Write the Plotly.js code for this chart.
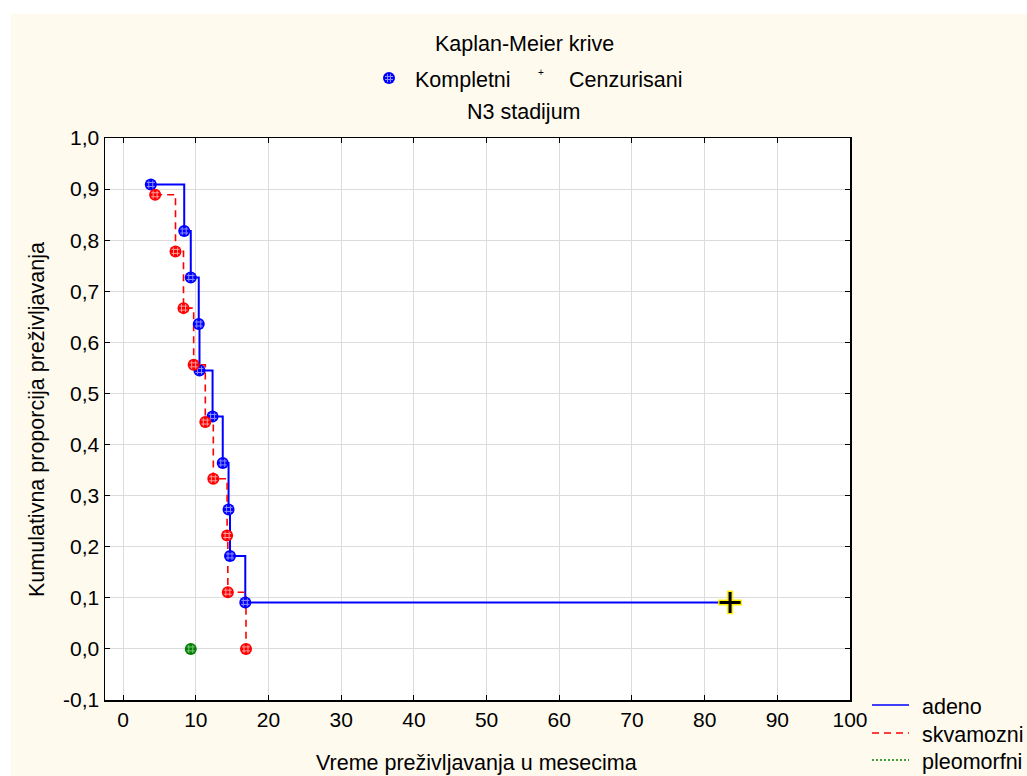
<!DOCTYPE html>
<html>
<head>
<meta charset="utf-8">
<script src="https://cdn.plot.ly/plotly-3.0.1.min.js"></script>
<style>
  html, body { margin: 0; padding: 0; background: #ffffff; }
  #chart { position: absolute; left: 11px; top: 14px; width: 1016px; height: 762px; }
</style>
</head>
<body>
<div id="chart"></div>
<script>
// Kaplan-Meier survival estimates, N3 stage, by histological type
const seriesNames = ['adeno', 'skvamozni', 'pleomorfni'];

// adeno: event times (months) and survival proportion after each event
const adenoTime = [3.8, 8.4, 9.3, 10.4, 10.5, 12.3, 13.7, 14.5, 14.7, 16.8];
const adenoSurv = [0.909, 0.818, 0.727, 0.636, 0.545, 0.455, 0.364, 0.273, 0.182, 0.091];
// adeno: censored observation
const adenoCensTime = [83.5];
const adenoCensSurv = [0.091];

// skvamozni
const skvTime = [4.4, 7.2, 8.3, 9.7, 11.3, 12.4, 14.3, 14.4, 16.9];
const skvSurv = [0.889, 0.778, 0.667, 0.556, 0.444, 0.333, 0.222, 0.111, 0.0];

// pleomorfni
const pleoTime = [9.3];
const pleoSurv = [0.0];

const xTicks = [0, 10, 20, 30, 40, 50, 60, 70, 80, 90, 100];
const yTicks = [-0.1, 0.0, 0.1, 0.2, 0.3, 0.4, 0.5, 0.6, 0.7, 0.8, 0.9, 1.0];
const yTickLabels = ['-0,1', '0,0', '0,1', '0,2', '0,3', '0,4', '0,5', '0,6', '0,7', '0,8', '0,9', '1,0'];

const titleText = 'Kaplan-Meier krive';
const subtitleText = 'N3 stadijum';
const markerLegend = ['Kompletni', 'Cenzurisani'];
const xTitle = 'Vreme preživljavanja u mesecima';
const yTitle = 'Kumulativna proporcija preživljavanja';

const colors = ['#0000ff', '#ff0000', '#008000'];
const hatchColors = ['#8c8cff', '#ff9a9a', '#7fc07f'];
const dashes = ['solid', '7px,5px', 'dot'];

// page-pixel helpers -> paper coordinates (div sits at 11,14)
const OX = 11, OY = 14;
const W = 1016, H = 762;
const M = { l: 94, r: 177, t: 124, b: 76 };
const PL = OX + M.l, PR = OX + W - M.r, PT = OY + M.t, PB = OY + H - M.b;
const px = x => (x - PL) / (PR - PL);
const py = y => (PB - y) / (PB - PT);

const font = 'Liberation Sans, Arial, sans-serif';
const fs = 21.5;
const fsTick = 21;

const groups = [
  { t: adenoTime.concat(adenoCensTime), s: adenoSurv.concat(adenoCensSurv), et: adenoTime, es: adenoSurv },
  { t: skvTime, s: skvSurv, et: skvTime, es: skvSurv },
  { t: pleoTime, s: pleoSurv, et: pleoTime, es: pleoSurv }
];

const traces = [];
groups.forEach((g, i) => {
  traces.push({
    x: g.t, y: g.s, mode: 'lines', type: 'scatter', name: seriesNames[i],
    line: { shape: 'hv', color: colors[i], width: i === 0 ? 2 : 1.6, dash: dashes[i] },
    hoverinfo: 'skip', showlegend: false
  });
});
groups.forEach((g, i) => {
  traces.push({
    x: g.et, y: g.es, mode: 'markers', type: 'scatter', showlegend: false,
    marker: { symbol: 'circle', size: 12, color: colors[i], line: { width: 0 } }
  });
  traces.push({
    x: g.et, y: g.es, mode: 'markers', type: 'scatter', showlegend: false, hoverinfo: 'skip',
    marker: { symbol: 'hash-open', size: 8, color: hatchColors[i], line: { width: 1, color: hatchColors[i] } }
  });
});
// censored mark: yellow-edged black plus
traces.push({
  x: adenoCensTime, y: adenoCensSurv, mode: 'markers', type: 'scatter', showlegend: false, hoverinfo: 'skip',
  marker: { symbol: 'cross-thin-open', size: 17, color: '#ffee00', line: { width: 6, color: '#ffee00' } }
});
traces.push({
  x: adenoCensTime, y: adenoCensSurv, mode: 'markers', type: 'scatter', showlegend: false,
  marker: { symbol: 'cross-thin-open', size: 15, color: '#000000', line: { width: 3, color: '#000000' } }
});

const baseFont = { family: font, size: fs, color: '#000' };
const annotations = [
  { text: titleText, x: px(524), y: py(44), xanchor: 'center', yanchor: 'middle' },
  { text: markerLegend[0], x: px(413), y: py(80), xanchor: 'left', yanchor: 'middle' },
  { text: '+', x: px(541), y: py(72), xanchor: 'center', yanchor: 'middle', font: { size: 10 } },
  { text: markerLegend[1], x: px(567), y: py(80), xanchor: 'left', yanchor: 'middle' },
  { text: subtitleText, x: px(524), y: py(112), xanchor: 'center', yanchor: 'middle' },
  { text: xTitle, x: px(476), y: py(763), xanchor: 'center', yanchor: 'middle' },
  { text: yTitle, x: px(37), y: py(420), xanchor: 'center', yanchor: 'middle', textangle: -90 }
].map(a => Object.assign({ xref: 'paper', yref: 'paper', showarrow: false }, a,
  { font: Object.assign({}, baseFont, a.font || {}) }));

const shapes = [
  // top marker key: complete observation symbol
  { type: 'circle', xref: 'paper', yref: 'paper', x0: px(383), x1: px(395), y0: py(84), y1: py(72),
    fillcolor: colors[0], line: { width: 0 } },
  { type: 'line', xref: 'paper', yref: 'paper', x0: px(385), x1: px(393), y0: py(76.5), y1: py(76.5), line: { color: hatchColors[0], width: 1 } },
  { type: 'line', xref: 'paper', yref: 'paper', x0: px(385), x1: px(393), y0: py(79.5), y1: py(79.5), line: { color: hatchColors[0], width: 1 } },
  { type: 'line', xref: 'paper', yref: 'paper', x0: px(387.5), x1: px(387.5), y0: py(74), y1: py(82), line: { color: hatchColors[0], width: 1 } },
  { type: 'line', xref: 'paper', yref: 'paper', x0: px(390.5), x1: px(390.5), y0: py(74), y1: py(82), line: { color: hatchColors[0], width: 1 } }
];

// series key, lower right
const keyY = [705, 733, 760];
seriesNames.forEach((n, i) => {
  shapes.push({ type: 'line', xref: 'paper', yref: 'paper', x0: px(872), x1: px(909), y0: py(keyY[i]), y1: py(keyY[i]),
    line: { color: colors[i], width: i === 0 ? 1.6 : 1.4, dash: i === 1 ? '7px,5px' : (i === 2 ? '2px,2px' : 'solid') } });
  annotations.push({ text: n, xref: 'paper', yref: 'paper', x: px(920), y: py(keyY[i] + 2), xanchor: 'left', yanchor: 'middle',
    showarrow: false, font: Object.assign({}, baseFont) });
});

const axisCommon = {
  ticks: 'inside', ticklen: 5, tickwidth: 1, tickcolor: '#000', mirror: 'ticks',
  showline: true, linecolor: '#000', linewidth: 1.5,
  showgrid: true, gridcolor: '#dcdcdc', gridwidth: 1, zeroline: false,
  tickfont: { family: font, size: fsTick, color: '#000' }, fixedrange: true
};

const layout = {
  width: W, height: H,
  margin: M,
  paper_bgcolor: '#fffaee', plot_bgcolor: '#ffffff',
  showlegend: false,
  font: baseFont,
  xaxis: Object.assign({}, axisCommon, { range: [-2.5, 100], tickmode: 'array', tickvals: xTicks, ticktext: xTicks.map(String) }),
  yaxis: Object.assign({}, axisCommon, { range: [-0.1, 1.0], tickmode: 'array', tickvals: yTicks, ticktext: yTickLabels }),
  annotations: annotations,
  shapes: shapes
};

Plotly.newPlot('chart', traces, layout, { displayModeBar: false, staticPlot: true });
</script>
</body>
</html>
